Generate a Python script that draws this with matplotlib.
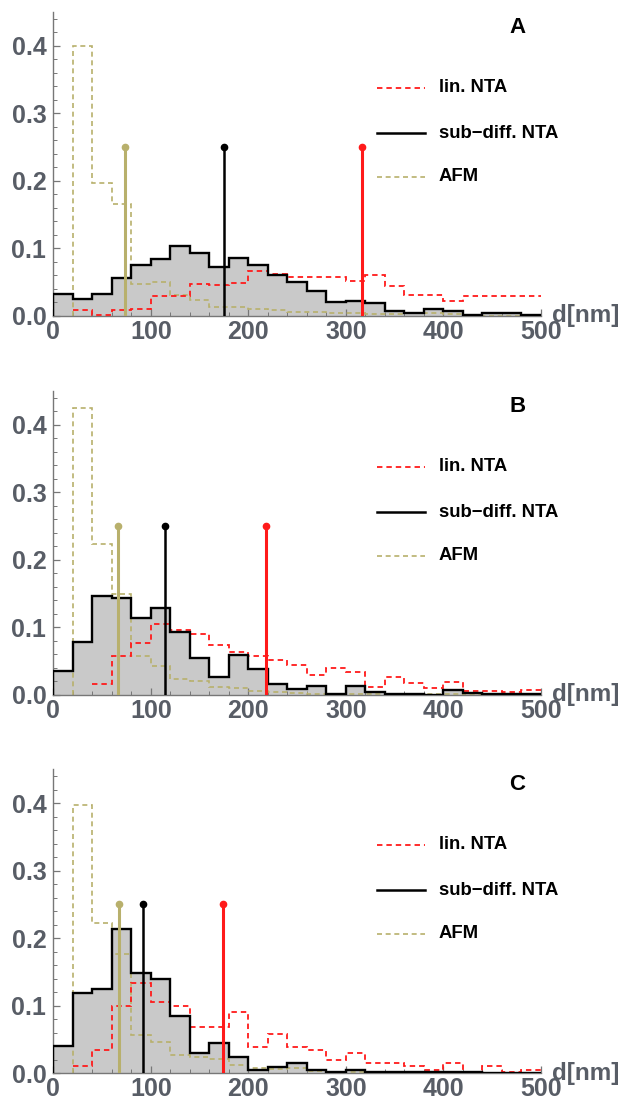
#!/usr/bin/env python3
"""
Size distributions: lin. NTA vs sub-diff. NTA vs AFM (panels A, B, C)
"""

import matplotlib
matplotlib.use("Agg")
import matplotlib.pyplot as plt
import numpy as np

plt.rcParams['font.family'] = ['Liberation Sans', 'DejaVu Sans']

# bin edges (nm), 20 nm bins
edges = np.arange(0, 520, 20)

panel_labels = ['A', 'B', 'C']
legend_labels = ['lin. NTA', 'sub\u2212diff. NTA', 'AFM']

# sub-diff. NTA histograms (start at 0 nm)
sub_a = [0.033, 0.025, 0.033, 0.057, 0.075, 0.084, 0.103, 0.094, 0.072, 0.086, 0.075, 0.060, 0.050,
         0.0375, 0.020, 0.022, 0.019, 0.008, 0.005, 0.010, 0.0075, 0.002, 0.004, 0.004, 0.001]
sub_b = [0.035, 0.078, 0.147, 0.143, 0.114, 0.129, 0.093, 0.054, 0.026, 0.059, 0.038, 0.016, 0.009,
         0.014, 0.002, 0.014, 0.005, 0.002, 0.002, 0.0, 0.007, 0.003, 0.001, 0.001, 0.001]
sub_c = [0.040, 0.119, 0.125, 0.213, 0.148, 0.139, 0.085, 0.029, 0.044, 0.024, 0.005, 0.009, 0.015,
         0.005, 0.002, 0.005, 0.001, 0.001, 0.001, 0.001, 0.001, 0.001, 0.0, 0.0, 0.0]

# lin. NTA histograms
lin_start = [20, 40, 20]
lin_a = [0.009, 0.001, 0.009, 0.010, 0.030, 0.030, 0.047, 0.046, 0.049, 0.066, 0.062, 0.058,
         0.058, 0.058, 0.052, 0.061, 0.045, 0.031, 0.031, 0.022, 0.030, 0.030, 0.030, 0.030]
lin_b = [0.016, 0.058, 0.077, 0.105, 0.096, 0.091, 0.074, 0.064, 0.058, 0.052, 0.044, 0.030,
         0.040, 0.034, 0.012, 0.027, 0.017, 0.010, 0.019, 0.006, 0.006, 0.005, 0.007]
lin_c = [0.010, 0.034, 0.100, 0.134, 0.105, 0.100, 0.068, 0.068, 0.090, 0.039, 0.058, 0.039,
         0.034, 0.019, 0.030, 0.015, 0.015, 0.010, 0.005, 0.015, 0.001, 0.011, 0.001, 0.005]

# AFM histograms (start at 20 nm)
afm_a = [0.400, 0.197, 0.166, 0.048, 0.051, 0.031, 0.024, 0.013, 0.013, 0.011, 0.009, 0.006,
         0.006, 0.005, 0.004, 0.003, 0.003, 0.004, 0.004, 0.003, 0.0, 0.0, 0.0, 0.0]
afm_b = [0.425, 0.224, 0.149, 0.058, 0.043, 0.023, 0.021, 0.012, 0.010, 0.006, 0.005, 0.003,
         0.002, 0.002, 0.002, 0.002, 0.001, 0.001, 0.001, 0.001, 0.0, 0.0, 0.0, 0.0]
afm_c = [0.397, 0.223, 0.176, 0.057, 0.046, 0.026, 0.024, 0.021, 0.012, 0.007, 0.006, 0.007,
         0.003, 0.002, 0.002, 0.002, 0.002, 0.001, 0.001, 0.001, 0.0, 0.0, 0.0, 0.0]

# mean diameters (nm): AFM, sub-diff, lin
mean_afm = [74, 66, 67]
mean_sub = [175, 115, 92]
mean_lin = [317, 218, 174]
mean_height = 0.25

RED = '#ff1a1a'
OLIVE = '#b8b06c'
GRAY_TXT = '#585d66'
FILL = '#c9c9c9'


def draw_panel(ax, letter, sub, lin, lstart, afm, m_afm, m_sub, m_lin):
    # sub-diff: filled grey histogram with black outline
    ax.stairs(sub, edges, baseline=0, fill=True, color=FILL, zorder=1)
    ax.stairs(sub, edges, baseline=0, color='black', lw=1.7, zorder=4)

    # AFM dashed
    afm_edges = edges[edges >= 20]
    ax.stairs(afm, afm_edges, baseline=0, color=OLIVE, lw=1.2,
              linestyle=(0, (3, 2.2)), zorder=2)

    # lin. NTA dashed
    lin_edges = edges[edges >= lstart]
    ax.stairs(lin, lin_edges, baseline=None, color=RED, lw=1.3,
              linestyle=(0, (3, 2.2)), zorder=3)

    # mean markers
    for xm, col, lw in [(m_afm, OLIVE, 2.2), (m_sub, 'black', 1.8), (m_lin, RED, 2.2)]:
        ax.plot([xm, xm], [0, mean_height], color=col, lw=lw, zorder=5,
                solid_capstyle='butt')
        ax.plot([xm], [mean_height], 'o', color=col, ms=4.5, zorder=6)

    ax.set_xlim(0, 500)
    ax.set_ylim(0, 0.45)
    for s in ['top', 'right']:
        ax.spines[s].set_visible(False)
    for s in ['left', 'bottom']:
        ax.spines[s].set_color('#777777')
        ax.spines[s].set_linewidth(1.0)

    ax.set_xticks(np.arange(0, 501, 100))
    ax.set_xticks(np.arange(0, 501, 20), minor=True)
    ax.set_yticks([0.0, 0.1, 0.2, 0.3, 0.4])
    ax.set_yticks(np.arange(0, 0.451, 0.02), minor=True)
    ax.set_yticklabels(['0.0', '0.1', '0.2', '0.3', '0.4'])
    ax.tick_params(which='both', direction='in', color='#777777', labelcolor=GRAY_TXT,
                   labelsize=18)
    ax.tick_params(which='major', length=5, width=0.9)
    ax.tick_params(which='minor', length=3, width=0.7)
    ax.tick_params(axis='x', pad=3)
    ax.tick_params(axis='y', pad=5)
    for lab in ax.get_xticklabels() + ax.get_yticklabels():
        lab.set_fontweight('bold')

    ax.text(1.022, 0.0, 'd[nm]', transform=ax.transAxes, ha='left', va='center',
            fontsize=17.5, fontweight='bold', color=GRAY_TXT, clip_on=False)

    ax.text(0.952, 0.95, letter, transform=ax.transAxes, ha='center', va='center',
            fontsize=16, fontweight='bold', color='black')

    # legend drawn by hand
    rows = [0.751, 0.602, 0.458]
    styles = [(RED, (0, (3, 2.2)), 1.3), ('black', '-', 1.8), (OLIVE, (0, (3, 2.2)), 1.2)]
    for yr, (col, ls, lw), lab in zip(rows, styles, legend_labels):
        ax.plot([0.664, 0.762], [yr, yr], transform=ax.transAxes, color=col, ls=ls,
                lw=lw, clip_on=False)
        ax.text(0.791, yr, lab, transform=ax.transAxes, ha='left', va='center',
                fontsize=13.3, fontweight='bold', color='black')


fig = plt.figure(figsize=(6.24, 11.01), dpi=100)
left, width, height = 0.0854, 0.7813, 0.2759
bottoms = [0.7130, 0.3688, 0.0254]

subs = [sub_a, sub_b, sub_c]
lins = [lin_a, lin_b, lin_c]
afms = [afm_a, afm_b, afm_c]

for i in range(3):
    ax = fig.add_axes([left, bottoms[i], width, height])
    draw_panel(ax, panel_labels[i], subs[i], lins[i], lin_start[i], afms[i],
               mean_afm[i], mean_sub[i], mean_lin[i])

fig.savefig('out.png', dpi=100)
plt.close(fig)
